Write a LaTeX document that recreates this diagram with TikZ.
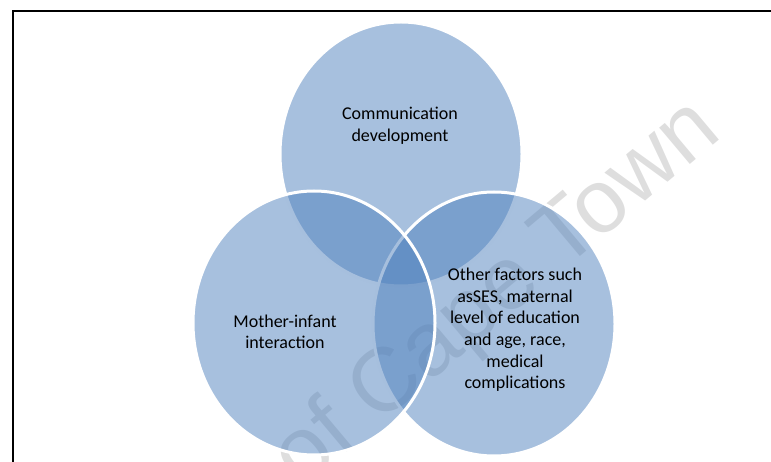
\documentclass[tikz,border=0pt]{standalone}
\usepackage{fontspec}
\setmainfont{Carlito}
\newfontfamily\wmfont{Liberation Sans}
\definecolor{vennblue}{HTML}{4F81BD}
\definecolor{wmgray}{HTML}{DEDEDE}
\begin{document}
\begin{tikzpicture}[x=1pt,y=-1pt,
  venn/.style={fill=vennblue,fill opacity=0.5,draw=white,draw opacity=1,line width=3pt},
  lbl/.style={align=center,font=\fontsize{18}{21.6}\selectfont,text=black,inner sep=0pt},
  frame/.style={line width=2.5pt,black}]
\useasboundingbox (0,0) rectangle (771,462);
% watermark
\node[rotate=40,font=\wmfont\fontsize{90}{90}\selectfont,text=wmgray,inner sep=0pt] (wm) at (337,430) {University of Cape Town};
% circles (stacking: top, right, left)
\path[venn] (401,154) ellipse [x radius=121, y radius=132];
\path[venn] (494,324) ellipse [x radius=121, y radius=132];
\path[venn] (314,323) ellipse [x radius=121, y radius=132];
% labels
\node[lbl] (comm) at (400,126) {Communication\\development};
\node[lbl] (mother) at (285,332) {Mother-infant\\interaction};
\node[lbl] (other) at (515,330) {Other factors such\\asSES, maternal\\level of education\\and age, race,\\medical\\complications};
% frame
\coordinate (fbl) at (13,462);
\coordinate (ftl) at (13,11);
\coordinate (ftr) at (771,11);
\draw[frame] (fbl) -- (ftl) -- (ftr);
\end{tikzpicture}
\end{document}
